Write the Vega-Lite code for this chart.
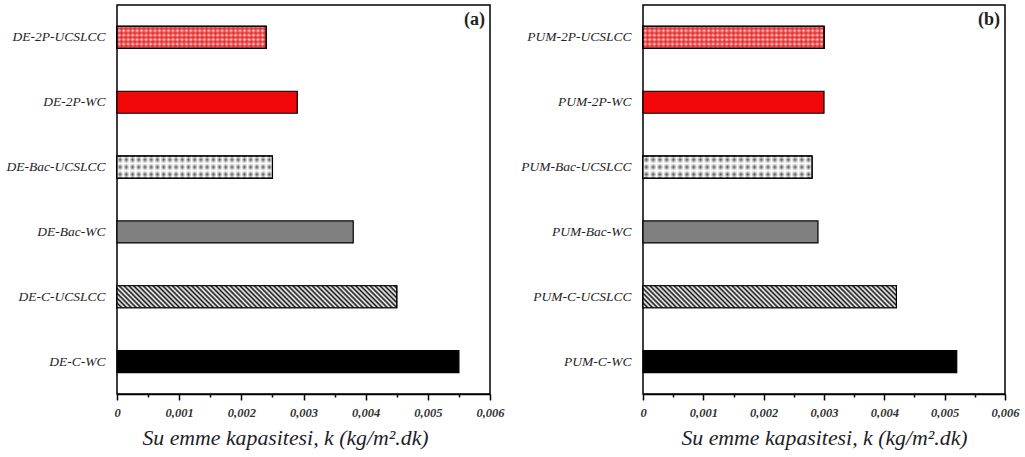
{
  "$schema": "https://vega.github.io/schema/vega-lite/v6.json",
  "padding": {"left": 5, "top": 4, "right": 5, "bottom": 3},
  "background": "white",
  "config": {
    "view": {"stroke": "#000", "strokeWidth": 1.5},
    "font": "Liberation Serif",
    "axisY": {"domain": false, "ticks": false, "labelFont": "Liberation Serif", "labelFontStyle": "italic", "labelFontSize": 13.5, "labelColor": "#1e1e28", "labelPadding": 12, "labelLimit": 300, "title": null},
    "axisX": {
      "values": [0,0.0002,0.0004,0.0006,0.0008,0.001,0.0012,0.0014,0.0016,0.0018,0.002,0.0022,0.0024,0.0026,0.0028,0.003,0.0032,0.0034,0.0036,0.0038,0.004,0.0042,0.0044,0.0046,0.0048,0.005,0.0052,0.0054,0.0056,0.0058,0.006],
      "labelExpr": "round(datum.value*10000)%10==0 ? (datum.value==0 ? '0' : replace(format(datum.value,'.3f'),'.',',')) : ''",
      "tickSize": {"condition": {"test": "round(datum.value*10000)%10==0", "value": 6}, "value": 3},
      "tickColor": "#000", "tickWidth": 1.5, "domainColor": "#000", "domainWidth": 1.5,
      "labelFont": "Liberation Serif", "labelFontStyle": "italic", "labelFontWeight": "bold", "labelFontSize": 12.5, "labelColor": "#333",
      "labelFlush": false, "labelOverlap": false, "labelPadding": 6, "grid": false,
      "titleFont": "Liberation Serif", "titleFontStyle": "italic", "titleFontWeight": "normal", "titleFontSize": 21.8, "titleColor": "#1e1e28", "titlePadding": 9
    }
  },
  "datasets": {
    "a": [
      {"sample": "DE-2P-UCSLCC", "k": 0.0024},
      {"sample": "DE-2P-WC", "k": 0.0029},
      {"sample": "DE-Bac-UCSLCC", "k": 0.0025},
      {"sample": "DE-Bac-WC", "k": 0.0038},
      {"sample": "DE-C-UCSLCC", "k": 0.0045},
      {"sample": "DE-C-WC", "k": 0.0055}
    ],
    "b": [
      {"sample": "PUM-2P-UCSLCC", "k": 0.003},
      {"sample": "PUM-2P-WC", "k": 0.003},
      {"sample": "PUM-Bac-UCSLCC", "k": 0.0028},
      {"sample": "PUM-Bac-WC", "k": 0.0029},
      {"sample": "PUM-C-UCSLCC", "k": 0.0042},
      {"sample": "PUM-C-WC", "k": 0.0052}
    ]
  },
  "bounds": "flush",
  "spacing": 153,
  "hconcat": [
    {
      "width": 373, "height": 389,
      "title": {"text": "(a)", "anchor": "end", "frame": "group", "offset": -24, "dx": -5, "font": "Liberation Serif", "fontSize": 18, "fontWeight": "bold", "color": "#222"},
      "data": {"name": "a"},
      "encoding": {
        "y": {"field": "sample", "type": "nominal", "scale": {"domain": ["DE-2P-UCSLCC","DE-2P-WC","DE-Bac-UCSLCC","DE-Bac-WC","DE-C-UCSLCC","DE-C-WC"]}},
        "x": {"field": "k", "type": "quantitative", "scale": {"domain": [0, 0.006]}, "title": "Su emme kapasitesi, k (kg/m².dk)", "axis": {"titleX": 168}}
      },
      "layer": [
        {
          "mark": {"type": "bar", "size": 22, "stroke": "#000", "strokeWidth": 1.2},
          "encoding": {
            "fill": {"field": "sample", "type": "nominal", "legend": null,
              "scale": {"domain": ["DE-2P-UCSLCC","DE-2P-WC","DE-Bac-UCSLCC","DE-Bac-WC","DE-C-UCSLCC","DE-C-WC"], "range": ["#ffffff","#f20808","#ffffff","#808080","#ffffff","#000000"]}}
          }
        },
        {
          "transform": [{"filter": "datum.sample == 'DE-C-UCSLCC'"}],
          "mark": {"type": "bar", "size": 22, "stroke": "#000", "strokeWidth": 1.2,
            "fill": {"gradient": "linear", "x1": 0, "y1": 1, "x2": 1.072, "y2": 0.9157, "stops": [
{"offset":0,"color":"#111"},{"offset":0.008,"color":"#fff"},{"offset":0.016,"color":"#111"},{"offset":0.024,"color":"#fff"},{"offset":0.032,"color":"#111"},{"offset":0.04,"color":"#fff"},{"offset":0.048,"color":"#111"},{"offset":0.056,"color":"#fff"},{"offset":0.064,"color":"#111"},{"offset":0.072,"color":"#fff"},
{"offset":0.08,"color":"#111"},{"offset":0.088,"color":"#fff"},{"offset":0.096,"color":"#111"},{"offset":0.104,"color":"#fff"},{"offset":0.112,"color":"#111"},{"offset":0.12,"color":"#fff"},{"offset":0.128,"color":"#111"},{"offset":0.136,"color":"#fff"},{"offset":0.144,"color":"#111"},{"offset":0.152,"color":"#fff"},
{"offset":0.16,"color":"#111"},{"offset":0.168,"color":"#fff"},{"offset":0.176,"color":"#111"},{"offset":0.184,"color":"#fff"},{"offset":0.192,"color":"#111"},{"offset":0.2,"color":"#fff"},{"offset":0.208,"color":"#111"},{"offset":0.216,"color":"#fff"},{"offset":0.224,"color":"#111"},{"offset":0.232,"color":"#fff"},
{"offset":0.24,"color":"#111"},{"offset":0.248,"color":"#fff"},{"offset":0.256,"color":"#111"},{"offset":0.264,"color":"#fff"},{"offset":0.272,"color":"#111"},{"offset":0.28,"color":"#fff"},{"offset":0.288,"color":"#111"},{"offset":0.296,"color":"#fff"},{"offset":0.304,"color":"#111"},{"offset":0.312,"color":"#fff"},
{"offset":0.32,"color":"#111"},{"offset":0.328,"color":"#fff"},{"offset":0.336,"color":"#111"},{"offset":0.344,"color":"#fff"},{"offset":0.352,"color":"#111"},{"offset":0.36,"color":"#fff"},{"offset":0.368,"color":"#111"},{"offset":0.376,"color":"#fff"},{"offset":0.384,"color":"#111"},{"offset":0.392,"color":"#fff"},
{"offset":0.4,"color":"#111"},{"offset":0.408,"color":"#fff"},{"offset":0.416,"color":"#111"},{"offset":0.424,"color":"#fff"},{"offset":0.432,"color":"#111"},{"offset":0.44,"color":"#fff"},{"offset":0.448,"color":"#111"},{"offset":0.456,"color":"#fff"},{"offset":0.464,"color":"#111"},{"offset":0.472,"color":"#fff"},
{"offset":0.48,"color":"#111"},{"offset":0.488,"color":"#fff"},{"offset":0.496,"color":"#111"},{"offset":0.504,"color":"#fff"},{"offset":0.512,"color":"#111"},{"offset":0.52,"color":"#fff"},{"offset":0.528,"color":"#111"},{"offset":0.536,"color":"#fff"},{"offset":0.544,"color":"#111"},{"offset":0.552,"color":"#fff"},
{"offset":0.56,"color":"#111"},{"offset":0.568,"color":"#fff"},{"offset":0.576,"color":"#111"},{"offset":0.584,"color":"#fff"},{"offset":0.592,"color":"#111"},{"offset":0.6,"color":"#fff"},{"offset":0.608,"color":"#111"},{"offset":0.616,"color":"#fff"},{"offset":0.624,"color":"#111"},{"offset":0.632,"color":"#fff"},
{"offset":0.64,"color":"#111"},{"offset":0.648,"color":"#fff"},{"offset":0.656,"color":"#111"},{"offset":0.664,"color":"#fff"},{"offset":0.672,"color":"#111"},{"offset":0.68,"color":"#fff"},{"offset":0.688,"color":"#111"},{"offset":0.696,"color":"#fff"},{"offset":0.704,"color":"#111"},{"offset":0.712,"color":"#fff"},
{"offset":0.72,"color":"#111"},{"offset":0.728,"color":"#fff"},{"offset":0.736,"color":"#111"},{"offset":0.744,"color":"#fff"},{"offset":0.752,"color":"#111"},{"offset":0.76,"color":"#fff"},{"offset":0.768,"color":"#111"},{"offset":0.776,"color":"#fff"},{"offset":0.784,"color":"#111"},{"offset":0.792,"color":"#fff"},
{"offset":0.8,"color":"#111"},{"offset":0.808,"color":"#fff"},{"offset":0.816,"color":"#111"},{"offset":0.824,"color":"#fff"},{"offset":0.832,"color":"#111"},{"offset":0.84,"color":"#fff"},{"offset":0.848,"color":"#111"},{"offset":0.856,"color":"#fff"},{"offset":0.864,"color":"#111"},{"offset":0.872,"color":"#fff"},
{"offset":0.88,"color":"#111"},{"offset":0.888,"color":"#fff"},{"offset":0.896,"color":"#111"},{"offset":0.904,"color":"#fff"},{"offset":0.912,"color":"#111"},{"offset":0.92,"color":"#fff"},{"offset":0.928,"color":"#111"},{"offset":0.936,"color":"#fff"},{"offset":0.944,"color":"#111"},{"offset":0.952,"color":"#fff"},
{"offset":0.96,"color":"#111"},{"offset":0.968,"color":"#fff"},{"offset":0.976,"color":"#111"},{"offset":0.984,"color":"#fff"},{"offset":0.992,"color":"#111"},{"offset":1,"color":"#fff"}
            ]}
          }
        },
        {
          "transform": [{"filter": "datum.sample == 'DE-2P-UCSLCC'"}],
          "mark": {"type": "bar", "size": 22, "stroke": "#000", "strokeWidth": 1.2,
            "fill": {"gradient": "linear", "x1": 0, "y1": 0, "x2": 0, "y2": 1, "stops": [
{"offset":0,"color":"#fcdcdc"},{"offset":0.1,"color":"#e84040"},{"offset":0.2,"color":"#fcdcdc"},{"offset":0.3,"color":"#e84040"},{"offset":0.4,"color":"#fcdcdc"},{"offset":0.5,"color":"#e84040"},{"offset":0.6,"color":"#fcdcdc"},{"offset":0.7,"color":"#e84040"},{"offset":0.8,"color":"#fcdcdc"},{"offset":0.9,"color":"#e84040"},{"offset":1,"color":"#fcdcdc"}
            ]}
          }
        },
        {
          "transform": [{"filter": "datum.sample == 'DE-2P-UCSLCC'"}],
          "mark": {"type": "bar", "size": 22, "stroke": "#000", "strokeWidth": 1.2,
            "fill": {"gradient": "linear", "x1": 0, "y1": 0, "x2": 1.2, "y2": 0, "stops": [
{"offset":0,"color":"rgba(228,30,30,0.75)"},{"offset":0.0125,"color":"rgba(228,30,30,0)"},{"offset":0.025,"color":"rgba(228,30,30,0.75)"},{"offset":0.0375,"color":"rgba(228,30,30,0)"},{"offset":0.05,"color":"rgba(228,30,30,0.75)"},{"offset":0.0625,"color":"rgba(228,30,30,0)"},{"offset":0.075,"color":"rgba(228,30,30,0.75)"},{"offset":0.0875,"color":"rgba(228,30,30,0)"},
{"offset":0.1,"color":"rgba(228,30,30,0.75)"},{"offset":0.1125,"color":"rgba(228,30,30,0)"},{"offset":0.125,"color":"rgba(228,30,30,0.75)"},{"offset":0.1375,"color":"rgba(228,30,30,0)"},{"offset":0.15,"color":"rgba(228,30,30,0.75)"},{"offset":0.1625,"color":"rgba(228,30,30,0)"},{"offset":0.175,"color":"rgba(228,30,30,0.75)"},{"offset":0.1875,"color":"rgba(228,30,30,0)"},
{"offset":0.2,"color":"rgba(228,30,30,0.75)"},{"offset":0.2125,"color":"rgba(228,30,30,0)"},{"offset":0.225,"color":"rgba(228,30,30,0.75)"},{"offset":0.2375,"color":"rgba(228,30,30,0)"},{"offset":0.25,"color":"rgba(228,30,30,0.75)"},{"offset":0.2625,"color":"rgba(228,30,30,0)"},{"offset":0.275,"color":"rgba(228,30,30,0.75)"},{"offset":0.2875,"color":"rgba(228,30,30,0)"},
{"offset":0.3,"color":"rgba(228,30,30,0.75)"},{"offset":0.3125,"color":"rgba(228,30,30,0)"},{"offset":0.325,"color":"rgba(228,30,30,0.75)"},{"offset":0.3375,"color":"rgba(228,30,30,0)"},{"offset":0.35,"color":"rgba(228,30,30,0.75)"},{"offset":0.3625,"color":"rgba(228,30,30,0)"},{"offset":0.375,"color":"rgba(228,30,30,0.75)"},{"offset":0.3875,"color":"rgba(228,30,30,0)"},
{"offset":0.4,"color":"rgba(228,30,30,0.75)"},{"offset":0.4125,"color":"rgba(228,30,30,0)"},{"offset":0.425,"color":"rgba(228,30,30,0.75)"},{"offset":0.4375,"color":"rgba(228,30,30,0)"},{"offset":0.45,"color":"rgba(228,30,30,0.75)"},{"offset":0.4625,"color":"rgba(228,30,30,0)"},{"offset":0.475,"color":"rgba(228,30,30,0.75)"},{"offset":0.4875,"color":"rgba(228,30,30,0)"},
{"offset":0.5,"color":"rgba(228,30,30,0.75)"},{"offset":0.5125,"color":"rgba(228,30,30,0)"},{"offset":0.525,"color":"rgba(228,30,30,0.75)"},{"offset":0.5375,"color":"rgba(228,30,30,0)"},{"offset":0.55,"color":"rgba(228,30,30,0.75)"},{"offset":0.5625,"color":"rgba(228,30,30,0)"},{"offset":0.575,"color":"rgba(228,30,30,0.75)"},{"offset":0.5875,"color":"rgba(228,30,30,0)"},
{"offset":0.6,"color":"rgba(228,30,30,0.75)"},{"offset":0.6125,"color":"rgba(228,30,30,0)"},{"offset":0.625,"color":"rgba(228,30,30,0.75)"},{"offset":0.6375,"color":"rgba(228,30,30,0)"},{"offset":0.65,"color":"rgba(228,30,30,0.75)"},{"offset":0.6625,"color":"rgba(228,30,30,0)"},{"offset":0.675,"color":"rgba(228,30,30,0.75)"},{"offset":0.6875,"color":"rgba(228,30,30,0)"},
{"offset":0.7,"color":"rgba(228,30,30,0.75)"},{"offset":0.7125,"color":"rgba(228,30,30,0)"},{"offset":0.725,"color":"rgba(228,30,30,0.75)"},{"offset":0.7375,"color":"rgba(228,30,30,0)"},{"offset":0.75,"color":"rgba(228,30,30,0.75)"},{"offset":0.7625,"color":"rgba(228,30,30,0)"},{"offset":0.775,"color":"rgba(228,30,30,0.75)"},{"offset":0.7875,"color":"rgba(228,30,30,0)"},
{"offset":0.8,"color":"rgba(228,30,30,0.75)"},{"offset":0.8125,"color":"rgba(228,30,30,0)"},{"offset":0.825,"color":"rgba(228,30,30,0.75)"},{"offset":0.8375,"color":"rgba(228,30,30,0)"},{"offset":0.85,"color":"rgba(228,30,30,0.75)"},{"offset":0.8625,"color":"rgba(228,30,30,0)"},{"offset":0.875,"color":"rgba(228,30,30,0.75)"},{"offset":0.8875,"color":"rgba(228,30,30,0)"},
{"offset":0.9,"color":"rgba(228,30,30,0.75)"},{"offset":0.9125,"color":"rgba(228,30,30,0)"},{"offset":0.925,"color":"rgba(228,30,30,0.75)"},{"offset":0.9375,"color":"rgba(228,30,30,0)"},{"offset":0.95,"color":"rgba(228,30,30,0.75)"},{"offset":0.9625,"color":"rgba(228,30,30,0)"},{"offset":0.975,"color":"rgba(228,30,30,0.75)"},{"offset":0.9875,"color":"rgba(228,30,30,0)"},
{"offset":1,"color":"rgba(228,30,30,0.75)"}
            ]}
          }
        },
        {
          "transform": [{"filter": "datum.sample == 'DE-Bac-UCSLCC'"}],
          "mark": {"type": "bar", "size": 22, "stroke": "#000", "strokeWidth": 1.2,
            "fill": {"gradient": "linear", "x1": 0, "y1": 0, "x2": 0, "y2": 1, "stops": [
{"offset":0,"color":"#ffffff"},{"offset":0.1667,"color":"#505050"},{"offset":0.3333,"color":"#ffffff"},{"offset":0.5,"color":"#505050"},{"offset":0.6667,"color":"#ffffff"},{"offset":0.8333,"color":"#505050"},{"offset":1,"color":"#ffffff"}
            ]}
          }
        },
        {
          "transform": [{"filter": "datum.sample == 'DE-Bac-UCSLCC'"}],
          "mark": {"type": "bar", "size": 22, "stroke": "#000", "strokeWidth": 1.2,
            "fill": {"gradient": "linear", "x1": 0, "y1": 0, "x2": 1, "y2": 0, "stops": [
{"offset":0,"color":"rgba(255,255,255,1)"},{"offset":0.02,"color":"rgba(255,255,255,0)"},{"offset":0.04,"color":"rgba(255,255,255,1)"},{"offset":0.06,"color":"rgba(255,255,255,0)"},{"offset":0.08,"color":"rgba(255,255,255,1)"},{"offset":0.1,"color":"rgba(255,255,255,0)"},
{"offset":0.12,"color":"rgba(255,255,255,1)"},{"offset":0.14,"color":"rgba(255,255,255,0)"},{"offset":0.16,"color":"rgba(255,255,255,1)"},{"offset":0.18,"color":"rgba(255,255,255,0)"},{"offset":0.2,"color":"rgba(255,255,255,1)"},{"offset":0.22,"color":"rgba(255,255,255,0)"},
{"offset":0.24,"color":"rgba(255,255,255,1)"},{"offset":0.26,"color":"rgba(255,255,255,0)"},{"offset":0.28,"color":"rgba(255,255,255,1)"},{"offset":0.3,"color":"rgba(255,255,255,0)"},{"offset":0.32,"color":"rgba(255,255,255,1)"},{"offset":0.34,"color":"rgba(255,255,255,0)"},
{"offset":0.36,"color":"rgba(255,255,255,1)"},{"offset":0.38,"color":"rgba(255,255,255,0)"},{"offset":0.4,"color":"rgba(255,255,255,1)"},{"offset":0.42,"color":"rgba(255,255,255,0)"},{"offset":0.44,"color":"rgba(255,255,255,1)"},{"offset":0.46,"color":"rgba(255,255,255,0)"},
{"offset":0.48,"color":"rgba(255,255,255,1)"},{"offset":0.5,"color":"rgba(255,255,255,0)"},{"offset":0.52,"color":"rgba(255,255,255,1)"},{"offset":0.54,"color":"rgba(255,255,255,0)"},{"offset":0.56,"color":"rgba(255,255,255,1)"},{"offset":0.58,"color":"rgba(255,255,255,0)"},
{"offset":0.6,"color":"rgba(255,255,255,1)"},{"offset":0.62,"color":"rgba(255,255,255,0)"},{"offset":0.64,"color":"rgba(255,255,255,1)"},{"offset":0.66,"color":"rgba(255,255,255,0)"},{"offset":0.68,"color":"rgba(255,255,255,1)"},{"offset":0.7,"color":"rgba(255,255,255,0)"},
{"offset":0.72,"color":"rgba(255,255,255,1)"},{"offset":0.74,"color":"rgba(255,255,255,0)"},{"offset":0.76,"color":"rgba(255,255,255,1)"},{"offset":0.78,"color":"rgba(255,255,255,0)"},{"offset":0.8,"color":"rgba(255,255,255,1)"},{"offset":0.82,"color":"rgba(255,255,255,0)"},
{"offset":0.84,"color":"rgba(255,255,255,1)"},{"offset":0.86,"color":"rgba(255,255,255,0)"},{"offset":0.88,"color":"rgba(255,255,255,1)"},{"offset":0.9,"color":"rgba(255,255,255,0)"},{"offset":0.92,"color":"rgba(255,255,255,1)"},{"offset":0.94,"color":"rgba(255,255,255,0)"},
{"offset":0.96,"color":"rgba(255,255,255,1)"},{"offset":0.98,"color":"rgba(255,255,255,0)"},{"offset":1,"color":"rgba(255,255,255,1)"}
            ]}
          }
        }
      ]
    },
    {
      "width": 362, "height": 389,
      "title": {"text": "(b)", "anchor": "end", "frame": "group", "offset": -24, "dx": -5, "font": "Liberation Serif", "fontSize": 18, "fontWeight": "bold", "color": "#222"},
      "data": {"name": "b"},
      "encoding": {
        "y": {"field": "sample", "type": "nominal", "scale": {"domain": ["PUM-2P-UCSLCC","PUM-2P-WC","PUM-Bac-UCSLCC","PUM-Bac-WC","PUM-C-UCSLCC","PUM-C-WC"]}},
        "x": {"field": "k", "type": "quantitative", "scale": {"domain": [0, 0.006]}, "title": "Su emme kapasitesi, k (kg/m².dk)"}
      },
      "layer": [
        {
          "mark": {"type": "bar", "size": 22, "stroke": "#000", "strokeWidth": 1.2},
          "encoding": {
            "fill": {"field": "sample", "type": "nominal", "legend": null,
              "scale": {"domain": ["PUM-2P-UCSLCC","PUM-2P-WC","PUM-Bac-UCSLCC","PUM-Bac-WC","PUM-C-UCSLCC","PUM-C-WC"], "range": ["#ffffff","#f20808","#ffffff","#737373","#ffffff","#000000"]}}
          }
        },
        {
          "transform": [{"filter": "datum.sample == 'PUM-C-UCSLCC'"}],
          "mark": {"type": "bar", "size": 22, "stroke": "#000", "strokeWidth": 1.2,
            "fill": {"gradient": "linear", "x1": 0, "y1": 1, "x2": 1.1819, "y2": 0.8974, "stops": [
{"offset":0,"color":"#111"},{"offset":0.008,"color":"#fff"},{"offset":0.016,"color":"#111"},{"offset":0.024,"color":"#fff"},{"offset":0.032,"color":"#111"},{"offset":0.04,"color":"#fff"},{"offset":0.048,"color":"#111"},{"offset":0.056,"color":"#fff"},{"offset":0.064,"color":"#111"},{"offset":0.072,"color":"#fff"},
{"offset":0.08,"color":"#111"},{"offset":0.088,"color":"#fff"},{"offset":0.096,"color":"#111"},{"offset":0.104,"color":"#fff"},{"offset":0.112,"color":"#111"},{"offset":0.12,"color":"#fff"},{"offset":0.128,"color":"#111"},{"offset":0.136,"color":"#fff"},{"offset":0.144,"color":"#111"},{"offset":0.152,"color":"#fff"},
{"offset":0.16,"color":"#111"},{"offset":0.168,"color":"#fff"},{"offset":0.176,"color":"#111"},{"offset":0.184,"color":"#fff"},{"offset":0.192,"color":"#111"},{"offset":0.2,"color":"#fff"},{"offset":0.208,"color":"#111"},{"offset":0.216,"color":"#fff"},{"offset":0.224,"color":"#111"},{"offset":0.232,"color":"#fff"},
{"offset":0.24,"color":"#111"},{"offset":0.248,"color":"#fff"},{"offset":0.256,"color":"#111"},{"offset":0.264,"color":"#fff"},{"offset":0.272,"color":"#111"},{"offset":0.28,"color":"#fff"},{"offset":0.288,"color":"#111"},{"offset":0.296,"color":"#fff"},{"offset":0.304,"color":"#111"},{"offset":0.312,"color":"#fff"},
{"offset":0.32,"color":"#111"},{"offset":0.328,"color":"#fff"},{"offset":0.336,"color":"#111"},{"offset":0.344,"color":"#fff"},{"offset":0.352,"color":"#111"},{"offset":0.36,"color":"#fff"},{"offset":0.368,"color":"#111"},{"offset":0.376,"color":"#fff"},{"offset":0.384,"color":"#111"},{"offset":0.392,"color":"#fff"},
{"offset":0.4,"color":"#111"},{"offset":0.408,"color":"#fff"},{"offset":0.416,"color":"#111"},{"offset":0.424,"color":"#fff"},{"offset":0.432,"color":"#111"},{"offset":0.44,"color":"#fff"},{"offset":0.448,"color":"#111"},{"offset":0.456,"color":"#fff"},{"offset":0.464,"color":"#111"},{"offset":0.472,"color":"#fff"},
{"offset":0.48,"color":"#111"},{"offset":0.488,"color":"#fff"},{"offset":0.496,"color":"#111"},{"offset":0.504,"color":"#fff"},{"offset":0.512,"color":"#111"},{"offset":0.52,"color":"#fff"},{"offset":0.528,"color":"#111"},{"offset":0.536,"color":"#fff"},{"offset":0.544,"color":"#111"},{"offset":0.552,"color":"#fff"},
{"offset":0.56,"color":"#111"},{"offset":0.568,"color":"#fff"},{"offset":0.576,"color":"#111"},{"offset":0.584,"color":"#fff"},{"offset":0.592,"color":"#111"},{"offset":0.6,"color":"#fff"},{"offset":0.608,"color":"#111"},{"offset":0.616,"color":"#fff"},{"offset":0.624,"color":"#111"},{"offset":0.632,"color":"#fff"},
{"offset":0.64,"color":"#111"},{"offset":0.648,"color":"#fff"},{"offset":0.656,"color":"#111"},{"offset":0.664,"color":"#fff"},{"offset":0.672,"color":"#111"},{"offset":0.68,"color":"#fff"},{"offset":0.688,"color":"#111"},{"offset":0.696,"color":"#fff"},{"offset":0.704,"color":"#111"},{"offset":0.712,"color":"#fff"},
{"offset":0.72,"color":"#111"},{"offset":0.728,"color":"#fff"},{"offset":0.736,"color":"#111"},{"offset":0.744,"color":"#fff"},{"offset":0.752,"color":"#111"},{"offset":0.76,"color":"#fff"},{"offset":0.768,"color":"#111"},{"offset":0.776,"color":"#fff"},{"offset":0.784,"color":"#111"},{"offset":0.792,"color":"#fff"},
{"offset":0.8,"color":"#111"},{"offset":0.808,"color":"#fff"},{"offset":0.816,"color":"#111"},{"offset":0.824,"color":"#fff"},{"offset":0.832,"color":"#111"},{"offset":0.84,"color":"#fff"},{"offset":0.848,"color":"#111"},{"offset":0.856,"color":"#fff"},{"offset":0.864,"color":"#111"},{"offset":0.872,"color":"#fff"},
{"offset":0.88,"color":"#111"},{"offset":0.888,"color":"#fff"},{"offset":0.896,"color":"#111"},{"offset":0.904,"color":"#fff"},{"offset":0.912,"color":"#111"},{"offset":0.92,"color":"#fff"},{"offset":0.928,"color":"#111"},{"offset":0.936,"color":"#fff"},{"offset":0.944,"color":"#111"},{"offset":0.952,"color":"#fff"},
{"offset":0.96,"color":"#111"},{"offset":0.968,"color":"#fff"},{"offset":0.976,"color":"#111"},{"offset":0.984,"color":"#fff"},{"offset":0.992,"color":"#111"},{"offset":1,"color":"#fff"}
            ]}
          }
        },
        {
          "transform": [{"filter": "datum.sample == 'PUM-2P-UCSLCC'"}],
          "mark": {"type": "bar", "size": 22, "stroke": "#000", "strokeWidth": 1.2,
            "fill": {"gradient": "linear", "x1": 0, "y1": 0, "x2": 0, "y2": 1, "stops": [
{"offset":0,"color":"#fcdcdc"},{"offset":0.1,"color":"#e84040"},{"offset":0.2,"color":"#fcdcdc"},{"offset":0.3,"color":"#e84040"},{"offset":0.4,"color":"#fcdcdc"},{"offset":0.5,"color":"#e84040"},{"offset":0.6,"color":"#fcdcdc"},{"offset":0.7,"color":"#e84040"},{"offset":0.8,"color":"#fcdcdc"},{"offset":0.9,"color":"#e84040"},{"offset":1,"color":"#fcdcdc"}
            ]}
          }
        },
        {
          "transform": [{"filter": "datum.sample == 'PUM-2P-UCSLCC'"}],
          "mark": {"type": "bar", "size": 22, "stroke": "#000", "strokeWidth": 1.2,
            "fill": {"gradient": "linear", "x1": 0, "y1": 0, "x2": 1, "y2": 0, "stops": [
{"offset":0,"color":"rgba(228,30,30,0.75)"},{"offset":0.0125,"color":"rgba(228,30,30,0)"},{"offset":0.025,"color":"rgba(228,30,30,0.75)"},{"offset":0.0375,"color":"rgba(228,30,30,0)"},{"offset":0.05,"color":"rgba(228,30,30,0.75)"},{"offset":0.0625,"color":"rgba(228,30,30,0)"},{"offset":0.075,"color":"rgba(228,30,30,0.75)"},{"offset":0.0875,"color":"rgba(228,30,30,0)"},
{"offset":0.1,"color":"rgba(228,30,30,0.75)"},{"offset":0.1125,"color":"rgba(228,30,30,0)"},{"offset":0.125,"color":"rgba(228,30,30,0.75)"},{"offset":0.1375,"color":"rgba(228,30,30,0)"},{"offset":0.15,"color":"rgba(228,30,30,0.75)"},{"offset":0.1625,"color":"rgba(228,30,30,0)"},{"offset":0.175,"color":"rgba(228,30,30,0.75)"},{"offset":0.1875,"color":"rgba(228,30,30,0)"},
{"offset":0.2,"color":"rgba(228,30,30,0.75)"},{"offset":0.2125,"color":"rgba(228,30,30,0)"},{"offset":0.225,"color":"rgba(228,30,30,0.75)"},{"offset":0.2375,"color":"rgba(228,30,30,0)"},{"offset":0.25,"color":"rgba(228,30,30,0.75)"},{"offset":0.2625,"color":"rgba(228,30,30,0)"},{"offset":0.275,"color":"rgba(228,30,30,0.75)"},{"offset":0.2875,"color":"rgba(228,30,30,0)"},
{"offset":0.3,"color":"rgba(228,30,30,0.75)"},{"offset":0.3125,"color":"rgba(228,30,30,0)"},{"offset":0.325,"color":"rgba(228,30,30,0.75)"},{"offset":0.3375,"color":"rgba(228,30,30,0)"},{"offset":0.35,"color":"rgba(228,30,30,0.75)"},{"offset":0.3625,"color":"rgba(228,30,30,0)"},{"offset":0.375,"color":"rgba(228,30,30,0.75)"},{"offset":0.3875,"color":"rgba(228,30,30,0)"},
{"offset":0.4,"color":"rgba(228,30,30,0.75)"},{"offset":0.4125,"color":"rgba(228,30,30,0)"},{"offset":0.425,"color":"rgba(228,30,30,0.75)"},{"offset":0.4375,"color":"rgba(228,30,30,0)"},{"offset":0.45,"color":"rgba(228,30,30,0.75)"},{"offset":0.4625,"color":"rgba(228,30,30,0)"},{"offset":0.475,"color":"rgba(228,30,30,0.75)"},{"offset":0.4875,"color":"rgba(228,30,30,0)"},
{"offset":0.5,"color":"rgba(228,30,30,0.75)"},{"offset":0.5125,"color":"rgba(228,30,30,0)"},{"offset":0.525,"color":"rgba(228,30,30,0.75)"},{"offset":0.5375,"color":"rgba(228,30,30,0)"},{"offset":0.55,"color":"rgba(228,30,30,0.75)"},{"offset":0.5625,"color":"rgba(228,30,30,0)"},{"offset":0.575,"color":"rgba(228,30,30,0.75)"},{"offset":0.5875,"color":"rgba(228,30,30,0)"},
{"offset":0.6,"color":"rgba(228,30,30,0.75)"},{"offset":0.6125,"color":"rgba(228,30,30,0)"},{"offset":0.625,"color":"rgba(228,30,30,0.75)"},{"offset":0.6375,"color":"rgba(228,30,30,0)"},{"offset":0.65,"color":"rgba(228,30,30,0.75)"},{"offset":0.6625,"color":"rgba(228,30,30,0)"},{"offset":0.675,"color":"rgba(228,30,30,0.75)"},{"offset":0.6875,"color":"rgba(228,30,30,0)"},
{"offset":0.7,"color":"rgba(228,30,30,0.75)"},{"offset":0.7125,"color":"rgba(228,30,30,0)"},{"offset":0.725,"color":"rgba(228,30,30,0.75)"},{"offset":0.7375,"color":"rgba(228,30,30,0)"},{"offset":0.75,"color":"rgba(228,30,30,0.75)"},{"offset":0.7625,"color":"rgba(228,30,30,0)"},{"offset":0.775,"color":"rgba(228,30,30,0.75)"},{"offset":0.7875,"color":"rgba(228,30,30,0)"},
{"offset":0.8,"color":"rgba(228,30,30,0.75)"},{"offset":0.8125,"color":"rgba(228,30,30,0)"},{"offset":0.825,"color":"rgba(228,30,30,0.75)"},{"offset":0.8375,"color":"rgba(228,30,30,0)"},{"offset":0.85,"color":"rgba(228,30,30,0.75)"},{"offset":0.8625,"color":"rgba(228,30,30,0)"},{"offset":0.875,"color":"rgba(228,30,30,0.75)"},{"offset":0.8875,"color":"rgba(228,30,30,0)"},
{"offset":0.9,"color":"rgba(228,30,30,0.75)"},{"offset":0.9125,"color":"rgba(228,30,30,0)"},{"offset":0.925,"color":"rgba(228,30,30,0.75)"},{"offset":0.9375,"color":"rgba(228,30,30,0)"},{"offset":0.95,"color":"rgba(228,30,30,0.75)"},{"offset":0.9625,"color":"rgba(228,30,30,0)"},{"offset":0.975,"color":"rgba(228,30,30,0.75)"},{"offset":0.9875,"color":"rgba(228,30,30,0)"},
{"offset":1,"color":"rgba(228,30,30,0.75)"}
            ]}
          }
        },
        {
          "transform": [{"filter": "datum.sample == 'PUM-Bac-UCSLCC'"}],
          "mark": {"type": "bar", "size": 22, "stroke": "#000", "strokeWidth": 1.2,
            "fill": {"gradient": "linear", "x1": 0, "y1": 0, "x2": 0, "y2": 1, "stops": [
{"offset":0,"color":"#ffffff"},{"offset":0.1667,"color":"#505050"},{"offset":0.3333,"color":"#ffffff"},{"offset":0.5,"color":"#505050"},{"offset":0.6667,"color":"#ffffff"},{"offset":0.8333,"color":"#505050"},{"offset":1,"color":"#ffffff"}
            ]}
          }
        },
        {
          "transform": [{"filter": "datum.sample == 'PUM-Bac-UCSLCC'"}],
          "mark": {"type": "bar", "size": 22, "stroke": "#000", "strokeWidth": 1.2,
            "fill": {"gradient": "linear", "x1": 0, "y1": 0, "x2": 1, "y2": 0, "stops": [
{"offset":0,"color":"rgba(255,255,255,1)"},{"offset":0.02,"color":"rgba(255,255,255,0)"},{"offset":0.04,"color":"rgba(255,255,255,1)"},{"offset":0.06,"color":"rgba(255,255,255,0)"},{"offset":0.08,"color":"rgba(255,255,255,1)"},{"offset":0.1,"color":"rgba(255,255,255,0)"},
{"offset":0.12,"color":"rgba(255,255,255,1)"},{"offset":0.14,"color":"rgba(255,255,255,0)"},{"offset":0.16,"color":"rgba(255,255,255,1)"},{"offset":0.18,"color":"rgba(255,255,255,0)"},{"offset":0.2,"color":"rgba(255,255,255,1)"},{"offset":0.22,"color":"rgba(255,255,255,0)"},
{"offset":0.24,"color":"rgba(255,255,255,1)"},{"offset":0.26,"color":"rgba(255,255,255,0)"},{"offset":0.28,"color":"rgba(255,255,255,1)"},{"offset":0.3,"color":"rgba(255,255,255,0)"},{"offset":0.32,"color":"rgba(255,255,255,1)"},{"offset":0.34,"color":"rgba(255,255,255,0)"},
{"offset":0.36,"color":"rgba(255,255,255,1)"},{"offset":0.38,"color":"rgba(255,255,255,0)"},{"offset":0.4,"color":"rgba(255,255,255,1)"},{"offset":0.42,"color":"rgba(255,255,255,0)"},{"offset":0.44,"color":"rgba(255,255,255,1)"},{"offset":0.46,"color":"rgba(255,255,255,0)"},
{"offset":0.48,"color":"rgba(255,255,255,1)"},{"offset":0.5,"color":"rgba(255,255,255,0)"},{"offset":0.52,"color":"rgba(255,255,255,1)"},{"offset":0.54,"color":"rgba(255,255,255,0)"},{"offset":0.56,"color":"rgba(255,255,255,1)"},{"offset":0.58,"color":"rgba(255,255,255,0)"},
{"offset":0.6,"color":"rgba(255,255,255,1)"},{"offset":0.62,"color":"rgba(255,255,255,0)"},{"offset":0.64,"color":"rgba(255,255,255,1)"},{"offset":0.66,"color":"rgba(255,255,255,0)"},{"offset":0.68,"color":"rgba(255,255,255,1)"},{"offset":0.7,"color":"rgba(255,255,255,0)"},
{"offset":0.72,"color":"rgba(255,255,255,1)"},{"offset":0.74,"color":"rgba(255,255,255,0)"},{"offset":0.76,"color":"rgba(255,255,255,1)"},{"offset":0.78,"color":"rgba(255,255,255,0)"},{"offset":0.8,"color":"rgba(255,255,255,1)"},{"offset":0.82,"color":"rgba(255,255,255,0)"},
{"offset":0.84,"color":"rgba(255,255,255,1)"},{"offset":0.86,"color":"rgba(255,255,255,0)"},{"offset":0.88,"color":"rgba(255,255,255,1)"},{"offset":0.9,"color":"rgba(255,255,255,0)"},{"offset":0.92,"color":"rgba(255,255,255,1)"},{"offset":0.94,"color":"rgba(255,255,255,0)"},
{"offset":0.96,"color":"rgba(255,255,255,1)"},{"offset":0.98,"color":"rgba(255,255,255,0)"},{"offset":1,"color":"rgba(255,255,255,1)"}
            ]}
          }
        }
      ]
    }
  ]
}
